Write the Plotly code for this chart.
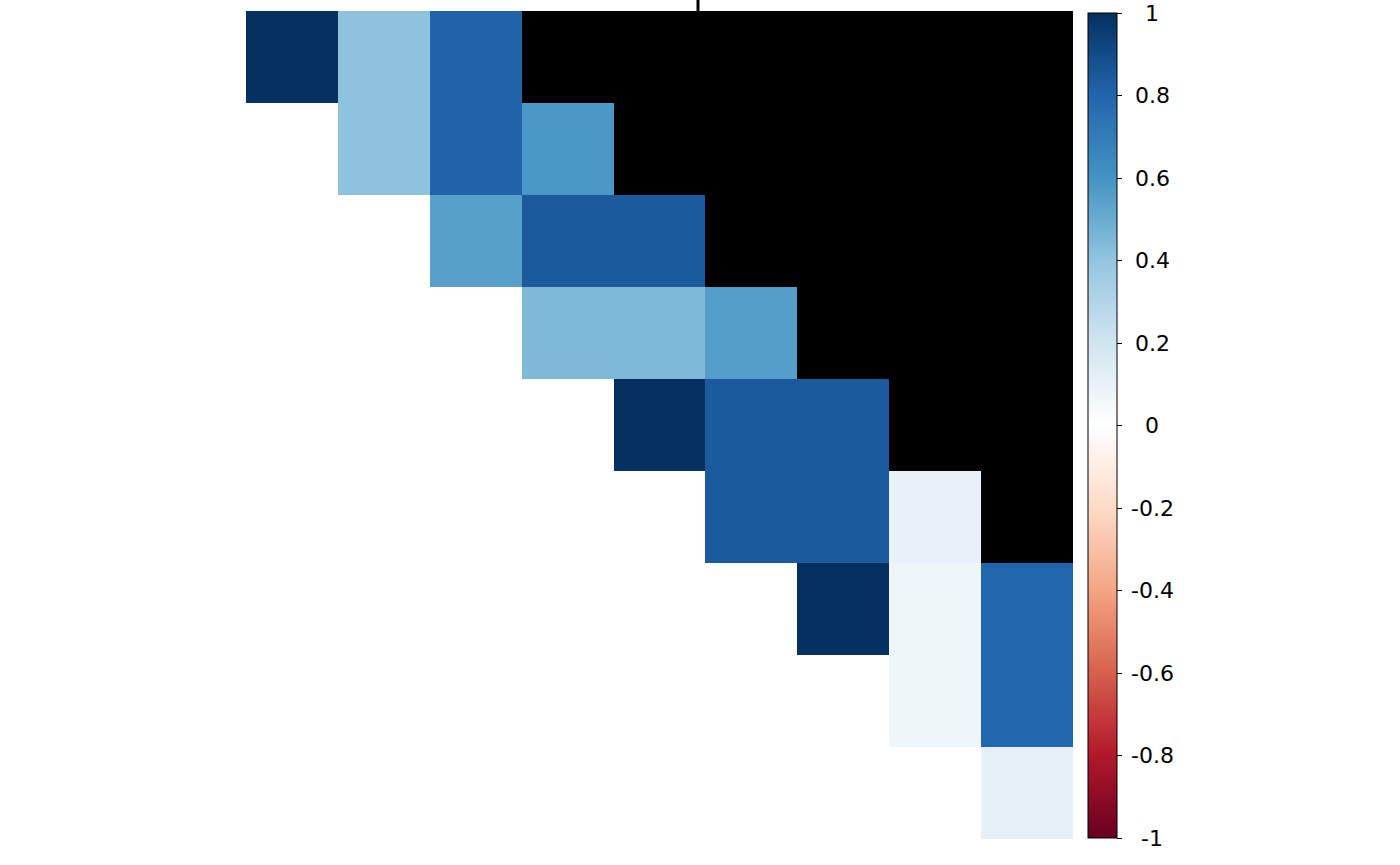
import numpy as np
import plotly.graph_objects as go

# ---- data ----
row_labels = ["V1", "V2", "V3", "V4", "V5", "V6", "V7", "V8", "V9"]
col_labels = ["V1", "V2", "V3", "V4", "V5", "V6", "V7", "V8", "V9"]
NA = None   # shown in black
BL = "blank"  # empty (lower part)

row0 = [1.00, 0.41, 0.81, NA, NA, NA, NA, NA, NA]
row1 = [BL, 0.41, 0.81, 0.58, NA, NA, NA, NA, NA]
row2 = [BL, BL, 0.55, 0.84, 0.84, NA, NA, NA, NA]
row3 = [BL, BL, BL, 0.45, 0.45, 0.56, NA, NA, NA]
row4 = [BL, BL, BL, BL, 1.00, 0.84, 0.84, NA, NA]
row5 = [BL, BL, BL, BL, BL, 0.84, 0.84, 0.10, NA]
row6 = [BL, BL, BL, BL, BL, BL, 1.00, 0.07, 0.80]
row7 = [BL, BL, BL, BL, BL, BL, BL, 0.07, 0.80]
row8 = [BL, BL, BL, BL, BL, BL, BL, BL, 0.11]
rows = [row0, row1, row2, row3, row4, row5, row6, row7, row8]

cbar_ticks = [-1, -0.8, -0.6, -0.4, -0.2, 0, 0.2, 0.4, 0.6, 0.8, 1]
cbar_labels = ["-1", "-0.8", "-0.6", "-0.4", "-0.2", "0", "0.2", "0.4", "0.6", "0.8", "1"]

rdbu = ["#67001F", "#B2182B", "#D6604D", "#F4A582", "#FDDBC7", "#FFFFFF",
        "#D1E5F0", "#92C5DE", "#4393C3", "#2166AC", "#053061"]

# ---- build matrices ----
z_val = [[v if isinstance(v, float) else np.nan for v in r] for r in rows]
z_na = [[1.0 if v is None else np.nan for v in r] for r in rows]

colorscale = [[i / (len(rdbu) - 1), c] for i, c in enumerate(rdbu)]

W, H = 1400, 865
L, R, T, B = 246, 1400 - 1073, 11, 865 - 839
pw, ph = W - L - R, H - T - B

bar_left, bar_top, bar_bot = 1088, 13, 838
bar_len = bar_bot - bar_top

fig = go.Figure()
fig.add_trace(go.Heatmap(
    z=z_na, x=col_labels, y=row_labels,
    colorscale=[[0, "#000000"], [1, "#000000"]],
    showscale=False, hoverinfo="skip", zmin=0, zmax=1,
))
fig.add_trace(go.Heatmap(
    z=z_val, x=col_labels, y=row_labels,
    colorscale=colorscale, zmin=-1, zmax=1,
    colorbar=dict(
        x=(bar_left - L) / pw, xanchor="left", xpad=0,
        y=(H - B - (bar_top + bar_bot) / 2) / ph, yanchor="middle", ypad=0,
        len=bar_len / ph, lenmode="fraction",
        thickness=29, thicknessmode="pixels",
        outlinecolor="black", outlinewidth=1,
        tickmode="array", tickvals=cbar_ticks,
        ticks="outside", ticklen=5, tickwidth=1, tickcolor="black",
        showticklabels=False,
    ),
))

for v, lab in zip(cbar_ticks, cbar_labels):
    ypix = bar_bot - (v + 1) / 2 * bar_len
    fig.add_annotation(
        x=(1152 - L) / pw, y=(H - B - ypix) / ph,
        xref="paper", yref="paper", text=lab, showarrow=False,
        xanchor="center", yanchor="middle",
        font=dict(family="DejaVu Sans", size=22, color="black"),
    )

# small clipped stroke at the top edge (remnant of cut-off text)
fig.add_shape(type="line", xref="paper", yref="paper",
              x0=(698 - L) / pw, x1=(698 - L) / pw,
              y0=1.0, y1=1.0 + T / ph,
              line=dict(color="black", width=3))

fig.update_xaxes(visible=False, range=[-0.5, 8.5], showgrid=False, zeroline=False)
fig.update_yaxes(visible=False, range=[8.5, -0.5], showgrid=False, zeroline=False)
fig.update_layout(
    width=W, height=H,
    margin=dict(l=L, r=R, t=T, b=B, pad=0),
    paper_bgcolor="white", plot_bgcolor="white",
    showlegend=False,
)
fig.write_html("out.html")
